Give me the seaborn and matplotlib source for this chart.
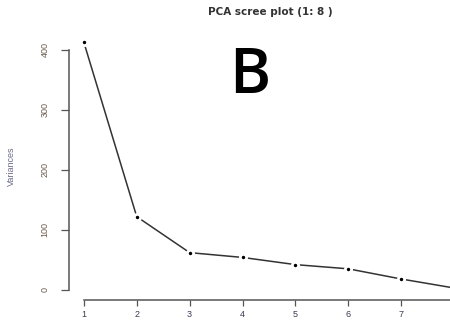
import matplotlib
matplotlib.use("Agg")
import matplotlib.pyplot as plt
import seaborn as sns
import pandas as pd

components = [1, 2, 3, 4, 5, 6, 7, 8]
variances = [413, 122, 62, 54, 42, 35, 18, 3]
x_ticks = [1, 2, 3, 4, 5, 6, 7]
y_ticks = [0, 100, 200, 300, 400]
title = "PCA scree plot (1: 8 )"
panel = "B"

sns.set_style("white")
plt.rcParams['font.family'] = ['Liberation Sans', 'DejaVu Sans']

df = pd.DataFrame({"component": components, "variance": variances})

W, H = 450, 324
fig = plt.figure(figsize=(W / 100, H / 100), dpi=100)
left, right = 69, 469
top, bottom = 32, 300
ax = fig.add_axes([left / W, 1 - bottom / H, (right - left) / W, (bottom - top) / H])

sns.lineplot(data=df, x="component", y="variance", ax=ax, color="#333333",
             linewidth=1.1, marker="o", markersize=4.5, markerfacecolor="black",
             markeredgecolor="white", markeredgewidth=2.0)

ax.set_xlim(0.72, 8.28)
ax.set_ylim(-17, 430)
ax.set_xticks(x_ticks)
ax.set_yticks(y_ticks)
ax.set_xticklabels([str(v) for v in x_ticks], fontsize=6.5, color="#3a3a55")
ax.set_yticklabels([str(v) for v in y_ticks], fontsize=6.5, color="#6b5a4a",
                   rotation=90, va="center")
ax.tick_params(axis="y", which="major", direction="out", length=6, width=0.9,
               colors="#555555", left=True, pad=8)
ax.tick_params(axis="x", which="major", direction="out", length=4.5, width=0.9,
               colors="#555555", bottom=True, pad=3)
for lbl in ax.get_xticklabels():
    lbl.set_color("#3a3a55")
for lbl in ax.get_yticklabels():
    lbl.set_color("#6b5a4a")

for s in ["top", "right"]:
    ax.spines[s].set_visible(False)
ax.spines["left"].set_bounds(0, 400)
ax.spines["bottom"].set_bounds(1, 8)
for s in ["left", "bottom"]:
    ax.spines[s].set_color("#555555")
    ax.spines[s].set_linewidth(1.1)

ax.set_xlabel("")
ax.set_ylabel("Variances", fontsize=6.5, color="#6b6b8a", labelpad=18)

fig.text(270 / W, 1 - 12 / H, title, ha="center", va="center", fontsize=7.5,
         fontweight="bold", family=["DejaVu Sans"], color="#333333")
fig.text(250 / W, 1 - 93 / H, panel, ha="center", va="baseline", fontsize=45,
         family=["Open Sans", "DejaVu Sans"], fontweight="semibold", color="black")

fig.savefig("out.png", dpi=100)
